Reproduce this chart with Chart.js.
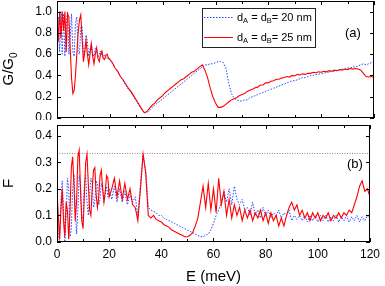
<!DOCTYPE html>
<html>
<head>
<meta charset="utf-8">
<script src="https://cdn.jsdelivr.net/npm/chart.js@4.4.0/dist/chart.umd.min.js"></script>
<style>
  body { margin: 0; background: #fff; }
  #wrap { position: relative; width: 385px; height: 286px; }
  canvas { position: absolute; left: 0; }
  #topChart { top: 0; }
  #bottomChart { top: 120px; }
</style>
</head>
<body>
<div id="wrap">
  <canvas id="topChart" width="385" height="120"></canvas>
  <canvas id="bottomChart" width="385" height="166"></canvas>
</div>
<script>
// energy grid (meV): fine steps below 20 meV, 1 meV above
const energyFine = [0, 0.5, 1, 1.5, 2, 2.5, 3, 3.5, 4, 4.5, 5, 5.5, 6, 6.5, 7, 7.5, 8, 8.5, 9, 9.5,
  10, 10.5, 11, 11.5, 12, 12.5, 13, 13.5, 14, 14.5, 15, 15.5, 16, 16.5, 17, 17.5, 18, 18.5, 19, 19.5];
const energyCoarse = [20, 21, 22, 23, 24, 25, 26, 27, 28, 29, 30, 31, 32, 33, 34, 35, 36, 37, 38, 39,
  40, 41, 42, 43, 44, 45, 46, 47, 48, 49, 50, 51, 52, 53, 54, 55, 56, 57, 58, 59,
  60, 61, 62, 63, 64, 65, 66, 67, 68, 69, 70, 71, 72, 73, 74, 75, 76, 77, 78, 79,
  80, 81, 82, 83, 84, 85, 86, 87, 88, 89, 90, 91, 92, 93, 94, 95, 96, 97, 98, 99,
  100, 101, 102, 103, 104, 105, 106, 107, 108, 109, 110, 111, 112, 113, 114, 115, 116, 117, 118, 119, 120];

// (a) conductance G/G0
const g20 = [
  0.7, 0.95, 0.62, 1.0, 0.6, 0.98, 0.58, 0.88, 1.0, 0.6, 0.75, 0.98, 0.62, 0.58, 0.9, 0.95, 0.62, 0.6, 0.85, 0.86,
  0.6, 0.62, 0.78, 0.72, 0.58, 0.65, 0.7, 0.6, 0.58, 0.66, 0.64, 0.57, 0.6, 0.63, 0.58, 0.57, 0.6, 0.58, 0.56, 0.57,
  0.55, 0.51, 0.47, 0.43, 0.39, 0.35, 0.31, 0.27, 0.24, 0.2,
  0.16, 0.12, 0.08, 0.05, 0.05, 0.07, 0.1, 0.12, 0.14, 0.16,
  0.18, 0.2, 0.22, 0.24, 0.26, 0.28, 0.3, 0.32, 0.34, 0.36,
  0.38, 0.4, 0.42, 0.44, 0.46, 0.48, 0.5, 0.5, 0.51, 0.51,
  0.52, 0.53, 0.53, 0.52, 0.46, 0.33, 0.23, 0.19, 0.17, 0.16,
  0.16, 0.17, 0.17, 0.19, 0.2, 0.21, 0.22, 0.23, 0.24, 0.25,
  0.26, 0.27, 0.28, 0.29, 0.3, 0.31, 0.32, 0.33, 0.34, 0.35,
  0.35, 0.36, 0.37, 0.38, 0.38, 0.39, 0.4, 0.4, 0.41, 0.41,
  0.42, 0.42, 0.43, 0.43, 0.44, 0.44, 0.45, 0.45, 0.46, 0.46,
  0.47, 0.47, 0.48, 0.48, 0.49, 0.5, 0.51, 0.5, 0.51, 0.52,
  0.52];
const g25 = [
  0.98, 0.72, 1.0, 0.75, 1.0, 0.82, 1.0, 0.62, 0.98, 0.95, 0.65, 0.38, 0.23, 0.26, 0.4, 0.6, 0.8, 0.92, 0.97, 0.75,
  0.53, 0.62, 0.73, 0.6, 0.5, 0.6, 0.7, 0.58, 0.51, 0.6, 0.66, 0.56, 0.53, 0.6, 0.63, 0.56, 0.55, 0.59, 0.6, 0.56,
  0.55, 0.52, 0.47, 0.44, 0.39, 0.36, 0.32, 0.28, 0.25, 0.21,
  0.17, 0.13, 0.09, 0.05, 0.06, 0.09, 0.12, 0.14, 0.17, 0.19,
  0.21, 0.24, 0.26, 0.28, 0.3, 0.32, 0.34, 0.36, 0.37, 0.39,
  0.41, 0.43, 0.44, 0.46, 0.48, 0.5, 0.45, 0.38, 0.28, 0.2,
  0.14, 0.1, 0.1, 0.11, 0.13, 0.15, 0.17, 0.18, 0.19, 0.21,
  0.22, 0.23, 0.25, 0.26, 0.27, 0.285, 0.29, 0.31, 0.31, 0.33,
  0.33, 0.345, 0.35, 0.365, 0.365, 0.375, 0.38, 0.39, 0.385, 0.4,
  0.395, 0.41, 0.405, 0.415, 0.41, 0.42, 0.42, 0.43, 0.425, 0.435,
  0.43, 0.44, 0.435, 0.445, 0.44, 0.45, 0.445, 0.455, 0.45, 0.46,
  0.455, 0.465, 0.46, 0.465, 0.46, 0.45, 0.42, 0.39, 0.385, 0.39,
  0.38];

// (b) Fano factor F
const f20 = [
  0.18, 0.02, 0.0, 0.15, 0.23, 0.12, 0.0, 0.1, 0.24, 0.2, 0.02, 0.05, 0.2, 0.255, 0.12, 0.03, 0.12, 0.25, 0.22, 0.08,
  0.1, 0.22, 0.25, 0.15, 0.1, 0.17, 0.24, 0.22, 0.13, 0.15, 0.23, 0.22, 0.14, 0.16, 0.22, 0.2, 0.15, 0.18, 0.21, 0.17,
  0.2, 0.16, 0.21, 0.15, 0.2, 0.15, 0.19, 0.14, 0.18, 0.15,
  0.17, 0.1, 0.22, 0.33, 0.27, 0.13, 0.12, 0.115, 0.11, 0.1,
  0.1, 0.09, 0.085, 0.08, 0.075, 0.07, 0.065, 0.06, 0.055, 0.05,
  0.045, 0.04, 0.035, 0.03, 0.025, 0.02, 0.02, 0.025, 0.03, 0.045,
  0.07, 0.1, 0.12, 0.15, 0.19, 0.15, 0.2, 0.14, 0.21, 0.16,
  0.14, 0.16, 0.12, 0.13, 0.1, 0.15, 0.1, 0.12, 0.09, 0.13,
  0.1, 0.12, 0.09, 0.11, 0.1, 0.12, 0.09, 0.11, 0.1, 0.12,
  0.08, 0.1, 0.085, 0.1, 0.08, 0.1, 0.075, 0.1, 0.08, 0.1,
  0.075, 0.1, 0.08, 0.1, 0.075, 0.095, 0.08, 0.1, 0.075, 0.095,
  0.08, 0.1, 0.075, 0.095, 0.08, 0.1, 0.075, 0.095, 0.08, 0.1,
  0.085];
const f25 = [
  0.19, 0.1, 0.01, 0.12, 0.2, 0.08, 0.02, 0.15, 0.12, 0.01, 0.12, 0.28, 0.32, 0.22, 0.08, 0.15, 0.32, 0.345, 0.2, 0.08,
  0.05, 0.18, 0.3, 0.33, 0.22, 0.12, 0.1, 0.2, 0.27, 0.28, 0.18, 0.13, 0.17, 0.25, 0.27, 0.2, 0.15, 0.19, 0.25, 0.24,
  0.17, 0.2, 0.24, 0.17, 0.23, 0.16, 0.22, 0.16, 0.2, 0.14,
  0.13, 0.08, 0.2, 0.33, 0.26, 0.1, 0.09, 0.1, 0.085, 0.08,
  0.075, 0.065, 0.06, 0.055, 0.045, 0.04, 0.035, 0.03, 0.025, 0.02,
  0.02, 0.025, 0.035, 0.06, 0.09, 0.15, 0.21, 0.13, 0.22, 0.12,
  0.2, 0.11, 0.24, 0.14, 0.19, 0.1, 0.16, 0.09, 0.14, 0.1,
  0.13, 0.08, 0.12, 0.09, 0.12, 0.08, 0.11, 0.09, 0.12, 0.08,
  0.11, 0.07, 0.11, 0.08, 0.1, 0.06, 0.09, 0.06, 0.1, 0.13,
  0.15, 0.12, 0.14, 0.1, 0.12, 0.09, 0.11, 0.08, 0.11, 0.09,
  0.11, 0.08, 0.1, 0.09, 0.11, 0.08, 0.1, 0.09, 0.11, 0.09,
  0.11, 0.1, 0.12, 0.11, 0.14, 0.17, 0.21, 0.23, 0.19, 0.2,
  0.17];

const refEnergy = [0, 120];
const refLevel = [0.333, 0.333];

const legendItems = ['20 nm', '25 nm'];
const panelTags = ['(a)', '(b)'];

const energy = energyFine.concat(energyCoarse);
const pts = (ys) => energy.map((e, i) => ({ x: e, y: ys[i] }));

const RED = 'rgb(255,0,0)';
const BLUE = 'rgb(40,70,255)';
const FONT = '"Liberation Sans", Arial, sans-serif';

Chart.defaults.font.family = FONT;
Chart.defaults.font.size = 12;
Chart.defaults.color = '#000';

// frame around the plot plus inward ticks on all four sides
const frameTicks = {
  id: 'frameTicks',
  afterDraw(chart) {
    const { ctx, chartArea: a, scales } = chart;
    ctx.save();
    ctx.strokeStyle = '#000';
    ctx.lineWidth = 1;
    ctx.strokeRect(a.left + 0.5, a.top + 0.5, a.right - a.left - 1, a.bottom - a.top - 1);
    ctx.beginPath();
    scales.x.ticks.forEach(t => {
      const px = Math.round(scales.x.getPixelForValue(t.value)) + 0.5;
      const len = t.label ? 4 : 3;
      ctx.moveTo(px, a.bottom); ctx.lineTo(px, a.bottom - len);
      ctx.moveTo(px, a.top); ctx.lineTo(px, a.top + len);
    });
    scales.y.ticks.forEach(t => {
      const py = Math.round(scales.y.getPixelForValue(t.value)) + 0.5;
      const len = t.label ? 4 : 3;
      ctx.moveTo(a.left, py); ctx.lineTo(a.left + len, py);
      ctx.moveTo(a.right, py); ctx.lineTo(a.right - len, py);
    });
    ctx.stroke();
    ctx.restore();
  }
};

function drawParts(ctx, x, y, parts) {
  parts.forEach(p => {
    ctx.font = (p.sub ? '7.5px ' : '11px ') + FONT;
    ctx.fillText(p.t, x, y + (p.sub ? 3 : 0));
    x += ctx.measureText(p.t).width;
  });
  return x;
}

const topDecor = {
  id: 'topDecor',
  afterDraw(chart) {
    const { ctx } = chart;
    ctx.save();
    ctx.fillStyle = '#000';
    ctx.textBaseline = 'middle';

    // y title G/G0
    ctx.save();
    ctx.translate(9, 69);
    ctx.rotate(-Math.PI / 2);
    ctx.font = '15px ' + FONT;
    const wMain = ctx.measureText('G/G').width;
    ctx.font = '10px ' + FONT;
    const wSub = ctx.measureText('0').width;
    const x0 = -(wMain + wSub) / 2;
    ctx.font = '15px ' + FONT;
    ctx.fillText('G/G', x0, 0);
    ctx.font = '10px ' + FONT;
    ctx.fillText('0', x0 + wMain, 5);
    ctx.restore();

    // legend
    ctx.strokeStyle = '#222';
    ctx.lineWidth = 1;
    ctx.strokeRect(202.5, 8.5, 113, 39);
    const rows = [
      { y: 17, color: BLUE, dash: [1.5, 1.5], label: legendItems[0] },
      { y: 37, color: RED, dash: [], label: legendItems[1] }
    ];
    rows.forEach(r => {
      ctx.save();
      ctx.strokeStyle = r.color;
      ctx.setLineDash(r.dash);
      ctx.beginPath();
      ctx.moveTo(204, r.y + 0.5);
      ctx.lineTo(233, r.y + 0.5);
      ctx.stroke();
      ctx.restore();
      drawParts(ctx, 237, r.y + 1, [
        { t: 'd' }, { t: 'A', sub: true }, { t: ' = d' }, { t: 'B', sub: true }, { t: '= ' + r.label }
      ]);
    });

    ctx.font = '13px ' + FONT;
    ctx.fillText(panelTags[0], 345, 33);
    ctx.restore();
  }
};

const bottomDecor = {
  id: 'bottomDecor',
  afterDraw(chart) {
    const { ctx } = chart;
    ctx.save();
    ctx.fillStyle = '#000';
    ctx.textBaseline = 'middle';
    ctx.font = '13px ' + FONT;
    ctx.fillText(panelTags[1], 347, 44);
    ctx.restore();
  }
};

const xTickLabel = v => (v % 20 === 0 ? String(v) : '');

// fixed axis box sizes so the plot areas line up with the original
const fixWidth = w => s => { s.width = w; s.paddingTop = 0; s.paddingBottom = 0; };
const fixHeight = h => s => { s.height = h; s.paddingLeft = 0; };

const baseOptions = {
  responsive: false,
  animation: false,
  events: [],
  plugins: { legend: { display: false }, tooltip: { enabled: false } },
  elements: { point: { radius: 0 }, line: { tension: 0 } }
};

new Chart(document.getElementById('topChart'), {
  type: 'line',
  data: {
    datasets: [
      { data: pts(g25), borderColor: RED, borderWidth: 1.1 },
      { data: pts(g20), borderColor: BLUE, borderWidth: 1, borderDash: [1.5, 1.5] }
    ]
  },
  options: {
    ...baseOptions,
    layout: { padding: { top: 1, right: 11, left: 0, bottom: 0 } },
    scales: {
      x: {
        type: 'linear', min: 0, max: 120,
        grid: { display: false }, border: { display: false },
        ticks: { display: false, stepSize: 10, callback: xTickLabel },
        afterFit: fixHeight(2)
      },
      y: {
        min: 0, max: 1.1,
        grid: { display: false, drawTicks: false }, border: { display: false },
        ticks: {
          stepSize: 0.1, padding: 5,
          callback: v => (Math.round(v * 10) % 2 === 0 ? v.toFixed(1) : '')
        },
        afterFit: fixWidth(57)
      }
    }
  },
  plugins: [frameTicks, topDecor]
});

new Chart(document.getElementById('bottomChart'), {
  type: 'line',
  data: {
    datasets: [
      { data: pts(f25), borderColor: RED, borderWidth: 1.1 },
      { data: pts(f20), borderColor: BLUE, borderWidth: 1, borderDash: [1.5, 1.5] },
      {
        data: refEnergy.map((e, i) => ({ x: e, y: refLevel[i] })),
        borderColor: 'rgb(170,120,120)', borderWidth: 1, borderDash: [1, 1.5]
      }
    ]
  },
  options: {
    ...baseOptions,
    layout: { padding: { top: 5, right: 11, left: 0, bottom: 0 } },
    scales: {
      x: {
        type: 'linear', min: 0, max: 120,
        grid: { display: false, drawTicks: false }, border: { display: false },
        ticks: { stepSize: 10, padding: 5, maxRotation: 0, autoSkip: false, callback: xTickLabel },
        title: { display: true, text: 'E (meV)', font: { size: 15 }, padding: { top: 0, bottom: 0 } },
        afterFit: fixHeight(44)
      },
      y: {
        min: 0, max: 0.44,
        grid: { display: false, drawTicks: false }, border: { display: false },
        ticks: {
          stepSize: 0.05, padding: 5, includeBounds: false,
          callback: v => (Math.round(v * 100) % 10 === 0 ? v.toFixed(1) : '')
        },
        title: { display: true, text: 'F', font: { size: 15 }, padding: { top: 0, bottom: 0 } },
        afterFit: fixWidth(57)
      }
    }
  },
  plugins: [frameTicks, bottomDecor]
});
</script>
</body>
</html>
